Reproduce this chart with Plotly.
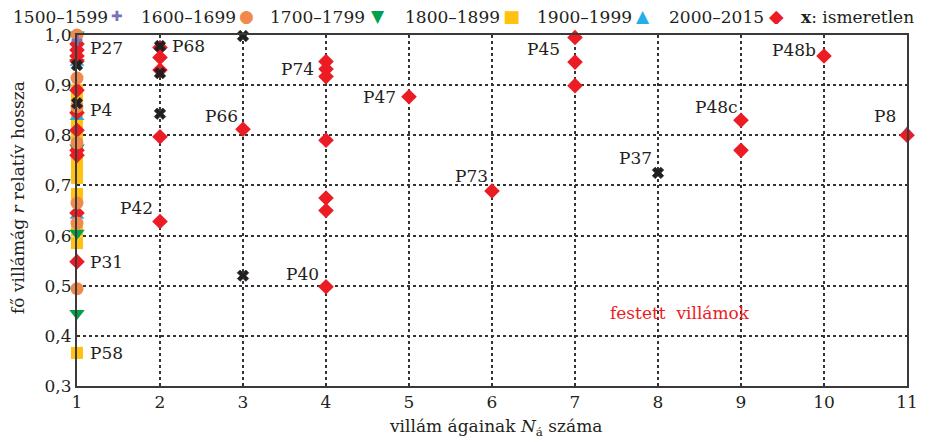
import plotly.graph_objects as go

# ---------------- data ----------------
x_1500 = [1]
y_1500 = [0.989]

x_1600 = [1, 1, 1, 1, 1, 1, 1]
y_1600 = [1.0, 0.914, 0.857, 0.785, 0.665, 0.625, 0.494]

x_1700 = [1, 1, 1, 1, 1]
y_1700 = [1.0, 0.945, 0.775, 0.605, 0.445]

x_1800 = [1, 1, 1, 1, 1, 1, 1, 1, 1, 1, 1, 1, 1, 1]
y_1800 = [0.89, 0.87, 0.85, 0.83, 0.81, 0.79, 0.77, 0.755, 0.735, 0.715, 0.683, 0.61, 0.585, 0.366]

x_1900 = [1, 1, 1, 11]
y_1900 = [0.945, 0.837, 0.64, 0.805]

x_2000 = [1, 1, 1, 1, 1, 1, 1, 1, 1, 1, 1,
          2, 2, 2, 2, 2,
          3,
          4, 4, 4, 4, 4, 4, 4,
          5, 6, 7, 7, 7, 9, 9, 10, 11]
y_2000 = [0.982, 0.97, 0.958, 0.948, 0.89, 0.845, 0.81, 0.77, 0.76, 0.645, 0.548,
          0.975, 0.955, 0.93, 0.797, 0.628,
          0.812,
          0.947, 0.932, 0.917, 0.79, 0.675, 0.65, 0.498,
          0.877, 0.689, 0.995, 0.946, 0.899, 0.83, 0.77, 0.958, 0.80]

x_unknown = [1, 1, 2, 2, 2, 3, 3, 8]
y_unknown = [0.94, 0.864, 0.978, 0.924, 0.843, 0.998, 0.52, 0.725]

label_text = ["P27", "P4", "P31", "P58", "P68", "P74", "P66", "P42", "P40",
              "P47", "P73", "P45", "P48b", "P48c", "P37", "P8"]
label_x = [1, 1, 1, 1, 2, 4, 3, 2, 4, 5, 6, 7, 10, 9, 8, 11]
label_y = [0.989, 0.864, 0.548, 0.366, 0.978, 0.932, 0.812, 0.628, 0.498,
           0.877, 0.689, 0.995, 0.958, 0.83, 0.725, 0.80]

legend_names = ["1500–1599", "1600–1699", "1700–1799", "1800–1899",
                "1900–1999", "2000–2015"]

x_ticks = [1, 2, 3, 4, 5, 6, 7, 8, 9, 10, 11]
y_ticks = [0.3, 0.4, 0.5, 0.6, 0.7, 0.8, 0.9, 1.0]

# ---------------- style ----------------
SERIF = "DejaVu Serif"
TXT = "#231f20"
C_PURPLE = "#7d72b6"
C_ORANGE = "#f0894c"
C_GREEN = "#00a14b"
C_YELLOW = "#ffc20f"
C_BLUE = "#23aee5"
C_RED = "#ec1c24"
C_BLACK = "#231f20"

OFF = 8  # page body margin
W, H = 934 - OFF, 442 - OFF
L, R, T, B = 77 - OFF, 27, 35 - OFF, 56
PW, PH = W - L - R, H - T - B


def px2paper(px, py):
    # screen pixel -> paper coordinates
    return (px - OFF - L) / PW, (H - B - (py - OFF)) / PH


fig = go.Figure()

# draw order: yellow, green, blue, red, orange, purple, black
fig.add_trace(go.Scatter(x=x_1800, y=y_1800, mode="markers", name=legend_names[3],
                         marker=dict(symbol="square", size=12, color=C_YELLOW),
                         cliponaxis=False))
fig.add_trace(go.Scatter(x=x_1700, y=y_1700, mode="markers", name=legend_names[2],
                         marker=dict(symbol="triangle-down", size=13.5, color=C_GREEN),
                         cliponaxis=False))
fig.add_trace(go.Scatter(x=x_1900, y=y_1900, mode="markers", name=legend_names[4],
                         marker=dict(symbol="triangle-up", size=13, color=C_BLUE),
                         cliponaxis=False))
fig.add_trace(go.Scatter(x=x_2000, y=y_2000, mode="markers", name=legend_names[5],
                         marker=dict(symbol="diamond", size=12, color=C_RED),
                         cliponaxis=False))
fig.add_trace(go.Scatter(x=x_1600, y=y_1600, mode="markers", name=legend_names[1],
                         marker=dict(symbol="circle", size=13, color=C_ORANGE),
                         cliponaxis=False))
fig.add_trace(go.Scatter(x=x_1500, y=y_1500, mode="markers", name=legend_names[0],
                         marker=dict(symbol="cross", size=9, color=C_PURPLE),
                         cliponaxis=False))
fig.add_trace(go.Scatter(x=x_unknown, y=y_unknown, mode="markers", name="ismeretlen",
                         marker=dict(symbol="x", size=10, color=C_BLACK,
                                     line=dict(width=0.8, color=C_BLACK)),
                         cliponaxis=False))

# point labels (offsets in px: xshift, yshift, anchor)
label_style = {
    "P27": (11, -7, "left"), "P4": (11, -7, "left"), "P31": (11, 0, "left"),
    "P58": (11, 0, "left"), "P68": (10, 0, "left"), "P74": (-10, 0, "right"),
    "P66": (-3, 13, "right"), "P42": (-5, 14, "right"), "P40": (-5, 13, "right"),
    "P47": (-11, 0, "right"), "P73": (-2, 15, "right"), "P45": (-13, -11, "right"),
    "P48b": (-6, 6, "right"), "P48c": (-1, 13, "right"), "P37": (-4, 15, "right"),
    "P8": (-9, 19, "right"),
}
for t, lx, ly in zip(label_text, label_x, label_y):
    xs, ys, anc = label_style[t]
    fig.add_annotation(x=lx, y=ly, text=t, showarrow=False, xanchor=anc,
                       yanchor="middle", xshift=xs, yshift=ys,
                       font=dict(family=SERIF, size=17, color=TXT))

# legend drawn as text
LEG_Y = 17
leg_items = [
    (legend_names[0], 11, "✚", 117, C_PURPLE, 14),
    (legend_names[1], 139, "●", 246, C_ORANGE, 17),
    (legend_names[2], 268, "▼", 378, C_GREEN, 17),
    (legend_names[3], 403, "■", 511, C_YELLOW, 18),
    (legend_names[4], 535, "▲", 643, C_BLUE, 17),
    (legend_names[5], 667, "◆", 776, C_RED, 19),
]
for name, tx, glyph, gx, col, gs in leg_items:
    ax, ay = px2paper(tx, LEG_Y)
    fig.add_annotation(xref="paper", yref="paper", x=ax, y=ay, text=name,
                       showarrow=False, xanchor="left", yanchor="middle",
                       font=dict(family=SERIF, size=17, color=TXT))
    gx_, gy_ = px2paper(gx, LEG_Y - 1)
    fig.add_annotation(xref="paper", yref="paper", x=gx_, y=gy_, text=glyph,
                       showarrow=False, xanchor="center", yanchor="middle",
                       height=16, valign="middle", borderpad=0,
                       font=dict(family="DejaVu Sans", size=gs, color=col))
ax, ay = px2paper(799, LEG_Y)
fig.add_annotation(xref="paper", yref="paper", x=ax, y=ay,
                   text="<b>x</b>: ismeretlen", showarrow=False,
                   xanchor="left", yanchor="middle",
                   font=dict(family=SERIF, size=17, color=TXT))

# axis titles
ax, ay = px2paper(495, 427)
fig.add_annotation(xref="paper", yref="paper", x=ax, y=ay,
                   text="villám ágainak <i>N</i><sub>á</sub> száma", showarrow=False,
                   xanchor="center", yanchor="middle",
                   font=dict(family=SERIF, size=17, color=TXT))
ax, ay = px2paper(18, 198)
fig.add_annotation(xref="paper", yref="paper", x=ax, y=ay, textangle=-90,
                   text="fő villámág <i>r</i> relatív hossza", showarrow=False,
                   xanchor="center", yanchor="middle",
                   font=dict(family=SERIF, size=17, color=TXT))

# red caption
fig.add_annotation(x=8.27, y=0.445, text="festett  villámok", showarrow=False,
                   xanchor="center", yanchor="middle",
                   font=dict(family=SERIF, size=17, color=C_RED))

axis_common = dict(
    showline=True, linecolor="#3a3a3a", linewidth=2, mirror=True,
    showgrid=True, gridcolor="#333333", gridwidth=1.5, griddash="dot",
    zeroline=False, ticks="", automargin=False,
    tickfont=dict(family=SERIF, size=17, color=TXT),
)

fig.update_xaxes(range=[1, 11], tickvals=x_ticks, ticktext=[str(v) for v in x_ticks],
                 **axis_common)
fig.update_yaxes(range=[0.3, 1.0], tickvals=y_ticks, tickformat=".1f",
                 **axis_common)

fig.update_layout(
    width=W, height=H,
    margin=dict(l=L, r=R, t=T, b=B, autoexpand=False),
    paper_bgcolor="white", plot_bgcolor="white",
    showlegend=False,
    separators=", ",
)

fig.write_html("out.html")
